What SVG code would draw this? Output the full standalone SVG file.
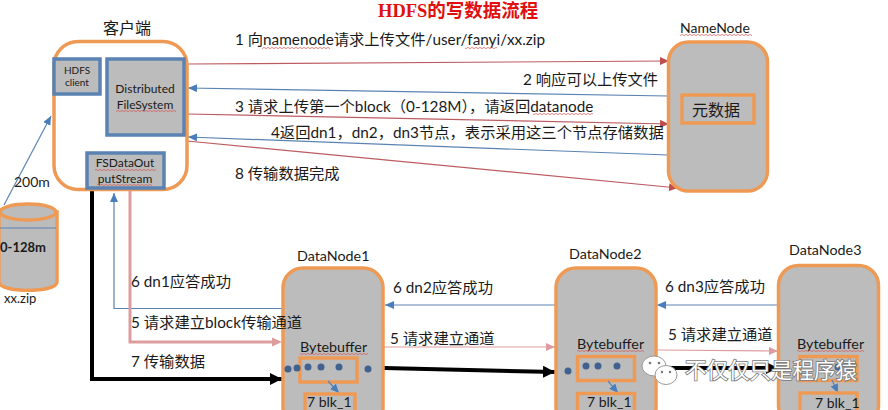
<svg xmlns="http://www.w3.org/2000/svg" width="888" height="410" viewBox="0 0 888 410">
<style>
text{font-family:"Lato","Noto Sans CJK SC","Noto Sans",sans-serif;font-size:14px;fill:#1a1a1a}
.l{font-size:15.300px}
.n{fill:#bcbcbc;stroke:#ee9a55;stroke-width:3.5}
.w{fill:#fff;stroke:#ee9a55;stroke-width:3.5}
.o{fill:none;stroke:#ee9a55;stroke-width:3.5}
.b{fill:#bcbcbc;stroke:#5a83b3;stroke-width:3.5}
.r{fill:none;stroke:#bd5b62;stroke-width:1.2;marker-end:url(#mr)}
.u{fill:none;stroke:#5a83b3;stroke-width:1.2;marker-end:url(#mb)}
.p{fill:none;stroke:#dd9d9f;stroke-width:1.2;marker-end:url(#mp)}
.k{fill:none;stroke:#000;stroke-width:4;marker-end:url(#mk)}
.d{fill:#41628f}
.s{fill:url(#sq)}
.h{font-size:16px}
.t{font-size:10px}
.m{font-size:14.300px}
.y{font-size:12px}
</style>
<defs>
<marker id="mr" markerUnits="userSpaceOnUse" markerWidth="12" markerHeight="10" refX="9" refY="4" orient="auto"><path d="M0 0L9 4L0 8Z" fill="#bd4f4f"/></marker>
<marker id="mb" markerUnits="userSpaceOnUse" markerWidth="12" markerHeight="10" refX="9" refY="4" orient="auto"><path d="M0 0L9 4L0 8Z" fill="#4a7ebb"/></marker>
<marker id="mp" markerUnits="userSpaceOnUse" markerWidth="12" markerHeight="10" refX="9" refY="4" orient="auto"><path d="M0 0L9 4L0 8Z" fill="#dd9d9f"/></marker>
<marker id="mk" markerUnits="userSpaceOnUse" markerWidth="14" markerHeight="14" refX="12" refY="6" orient="auto"><path d="M0 0L12 6L0 12Z" fill="#000"/></marker>
<pattern id="sq" width="4" height="2" patternUnits="userSpaceOnUse"><path d="M0 1.6L2 .4L4 1.6" fill="none" stroke="#d9534f" stroke-width=".7"/></pattern>
</defs>
<rect width="888" height="410" fill="#fff"/>
<text x="378" y="17" style="font-family:'Liberation Serif','Noto Sans CJK SC',serif;font-size:18.500px;font-weight:bold;fill:#e01010">HDFS的写数据流程</text>

<g id="connectors">
<path class="r" d="M187 64L669 61"/>
<path class="u" d="M668 96L188 88"/>
<path class="r" d="M187 114L669 124"/>
<path class="u" d="M668 155L188 137"/>
<path class="r" d="M187 141L678 188"/>
<path class="u" d="M4 205L51 116"/>
<path class="u" d="M283 308.500H114V193"/>
<path d="M130 190V342H272" fill="none" stroke="#dd9d9f" stroke-width="3"/>
<path d="M272 337.500L282 342L272 346.500Z" fill="#dd9d9f"/>
<path class="k" d="M92 190V379H282"/>
<path class="u" d="M555 305H385"/>
<path class="p" d="M383 347H555"/>
<path class="k" d="M384 368L555 372"/>
<path class="u" d="M778 305H657"/>
<path class="p" d="M657 350L778 351"/>
<path class="k" d="M656 368H778"/>
</g>

<g id="client">
<rect class="w" x="54" y="41.500" width="133" height="148" rx="24"/>
<text x="103" y="34" class="h">客户端</text>
</g>
<g id="hdfs-client">
<rect class="b" x="54" y="59" width="46" height="35"/>
<text x="77" y="74" class="t" text-anchor="middle">HDFS</text>
<text x="77" y="86" class="t" text-anchor="middle">client</text>
</g>
<g id="distributed-filesystem">
<rect class="b" x="107" y="59" width="77" height="76"/>
<text x="145" y="93" text-anchor="middle" class="y">Distributed</text>
<text x="145" y="109" text-anchor="middle" class="y">FileSystem</text>
<rect class="s" x="116" y="110" width="60" height="2"/>
</g>
<g id="fsdataoutputstream">
<rect class="b" x="87" y="153" width="77" height="35"/>
<text x="125" y="167" text-anchor="middle" class="y">FSDataOut</text>
<text x="125" y="183" text-anchor="middle" class="y">putStream</text>
<rect class="s" x="95" y="169" width="61" height="2"/>
<rect class="s" x="97" y="184" width="55" height="2"/>
</g>

<g id="file">
<path class="n" d="M-1 212V282C-1 293 57 293 57 282V212Z"/>
<ellipse class="n" cx="28" cy="212" rx="28" ry="8"/>
<path d="M0 228L56 228" stroke="#5a83b3" stroke-width="1" fill="none"/>
<text x="0" y="252" style="font-size:13px;font-weight:bold">0-128m</text>
<text x="4" y="303" style="font-size:13px">xx.zip</text>
</g>

<g id="namenode">
<rect class="n" x="668.500" y="42" width="99" height="149" rx="20"/>
<text x="680" y="33">NameNode</text>
<rect class="s" x="680" y="34" width="72" height="2"/>
<rect class="o" x="682" y="95" width="72" height="28"/>
<text x="692" y="116" class="h">元数据</text>
</g>

<g id="datanode1">
<rect class="n" x="283" y="268" width="100" height="160" rx="20"/>
<text x="297" y="261" class="m">DataNode1</text>
<text x="300" y="352" class="m">Bytebuffer</text>
<rect class="s" x="300" y="353" width="68" height="2"/>
<rect class="o" x="300" y="358" width="57" height="24"/>
<circle class="d" cx="288" cy="369" r="3.500"/><circle class="d" cx="297" cy="368" r="3.500"/><circle class="d" cx="308" cy="367" r="3.500"/><circle class="d" cx="321" cy="367" r="3.500"/><circle class="d" cx="339" cy="367" r="3.500"/><circle class="d" cx="368" cy="369" r="3.500"/>
<path class="u" d="M328 381L339 393"/>
<rect class="o" x="305" y="394" width="50" height="24"/>
<text x="307" y="407">7 blk_1</text>
</g>

<g id="datanode2">
<rect class="n" x="556" y="268" width="100" height="160" rx="20"/>
<text x="569" y="259" class="m">DataNode2</text>
<text x="577" y="349" class="m">Bytebuffer</text>
<rect class="s" x="577" y="350" width="67" height="2"/>
<rect class="o" x="577.500" y="356.500" width="57" height="24"/>
<circle class="d" cx="568" cy="371" r="3.500"/><circle class="d" cx="586" cy="366" r="3.500"/><circle class="d" cx="598" cy="366" r="3.500"/><circle class="d" cx="617" cy="366" r="3.500"/>
<path class="u" d="M608 381L618 393"/>
<rect class="o" x="577.500" y="393.500" width="57" height="24"/>
<text x="587" y="407">7 blk_1</text>
</g>

<g id="datanode3">
<rect class="n" x="778.500" y="265.500" width="100" height="160" rx="20"/>
<text x="789" y="255" class="m">DataNode3</text>
<text x="797" y="349" class="m">Bytebuffer</text>
<rect class="s" x="797" y="350" width="67" height="2"/>
<rect class="o" x="800" y="356.500" width="57" height="24"/>
<circle class="d" cx="838" cy="367" r="3.500"/>
<path class="u" d="M832 380L838 393"/>
<rect class="o" x="800" y="393" width="57" height="24"/>
<text x="815" y="408">7 blk_1</text>
</g>

<g id="labels">
<text class="l" x="235" y="45">1 向namenode请求上传文件/user/fanyi/xx.zip</text>
<rect class="s" x="262" y="47" width="68" height="2"/>
<rect class="s" x="465" y="47" width="32" height="2"/>
<text class="l" x="523" y="85">2 响应可以上传文件</text>
<text class="l" x="235" y="112">3 请求上传第一个block（0-128M），请返回datanode</text>
<rect class="s" x="533" y="113" width="60" height="2"/>
<text class="l" x="271" y="138">4返回dn1，dn2，dn3节点，表示采用这三个节点存储数据</text>
<text class="l" x="235" y="179">8 传输数据完成</text>
<text x="14" y="187">200m</text>
<text class="l" x="131" y="287">6 dn1应答成功</text>
<text class="l" x="131" y="328">5 请求建立block传输通道</text>
<text class="l" x="131" y="367">7 传输数据</text>
<text class="l" x="393" y="293">6 dn2应答成功</text>
<text class="l" x="390" y="344">5 请求建立通道</text>
<text class="l" x="665" y="292">6 dn3应答成功</text>
<text class="l" x="668" y="340">5 请求建立通道</text>
</g>

<g id="watermark">
<ellipse cx="654" cy="366" rx="12" ry="10" fill="#fff" stroke="#9a9a9a" stroke-width="1"/>
<ellipse cx="666" cy="375" rx="11" ry="9.500" fill="#fff" stroke="#9a9a9a" stroke-width="1"/>
<circle cx="650" cy="363" r="1.300" fill="#777"/><circle cx="659" cy="363" r="1.300" fill="#777"/><circle cx="662" cy="372" r="1.200" fill="#777"/><circle cx="670" cy="372" r="1.200" fill="#777"/>
<text x="685" y="378" style="font-size:21.500px;fill:#fff;stroke:#777;stroke-width:1.600;paint-order:stroke">不仅仅只是程序猿</text>
</g>
</svg>
